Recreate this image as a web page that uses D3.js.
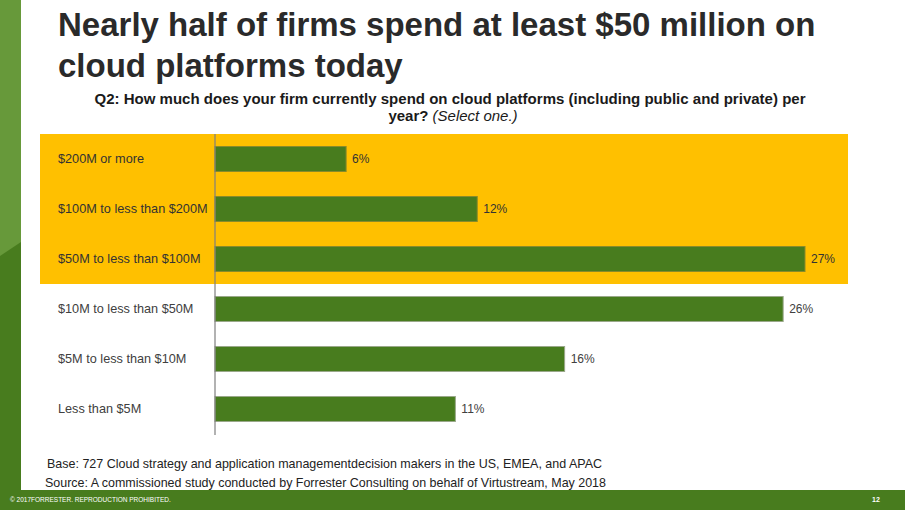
<!DOCTYPE html>
<html>
<head>
<meta charset="utf-8">
<script src="https://cdn.jsdelivr.net/npm/d3@7"></script>
<style>
  body { margin: 0; background: #fff; }
  svg { display: block; font-family: "Liberation Sans", Arial, sans-serif; }
</style>
</head>
<body>
<svg id="chart" width="905" height="510"></svg>
<script>
// chart data
const categories = ["$200M or more", "$100M to less than $200M", "$50M to less than $100M",
    "$10M to less than $50M", "$5M to less than $10M", "Less than $5M"]
const shares = [6, 12, 27, 26, 16, 11]
const highlighted = ["$200M or more", "$100M to less than $200M", "$50M to less than $100M"]

const svg = d3.select("#chart")
const green = "#487c1e"

// left decorative strip
svg.append("rect").attr("x", 0).attr("y", 0).attr("width", 21).attr("height", 510).attr("fill", green)
svg.append("path")
    .attr("d", "M0 0 L21 0 L21 242 L0 256 Z")
    .attr("fill", "#67993a")

// title
const title = svg.append("text")
    .attr("x", 58)
    .attr("font-size", "33px")
    .attr("font-weight", "bold")
    .attr("fill", "#2a2a2a")
title.append("tspan").attr("x", 58).attr("y", 36).text("Nearly half of firms spend at least $50 million on")
title.append("tspan").attr("x", 58).attr("y", 77).text("cloud platforms today")

// question
const q = svg.append("text")
    .attr("text-anchor", "middle")
    .attr("font-size", "15px")
    .attr("font-weight", "bold")
    .attr("fill", "#1a1a1a")
q.append("tspan").attr("x", 450).attr("y", 104)
    .attr("textLength", 711)
    .attr("lengthAdjust", "spacingAndGlyphs")
    .text("Q2: How much does your firm currently spend on cloud platforms (including public and private) per")
const q2 = q.append("tspan").attr("x", 453).attr("y", 121)
q2.append("tspan").text("year? ")
q2.append("tspan").attr("font-weight", "normal").attr("font-style", "italic").text("(Select one.)")

// scales
const axisX = 215
const x = d3.scaleLinear().domain([0, 27]).range([axisX, 805])
const y = d3.scaleBand().domain(categories).range([134, 434]).paddingInner(0.5).paddingOuter(0.25)

// highlight box
svg.append("rect")
    .attr("x", 40)
    .attr("y", y(highlighted[0]) - y.step() * 0.25)
    .attr("width", 808)
    .attr("height", y.step() * highlighted.length)
    .attr("fill", "#ffc000")

// bars
svg.append("g").selectAll("rect")
    .data(categories)
    .enter()
    .append("rect")
    .attr("x", axisX)
    .attr("y", d => y(d))
    .attr("width", (d, i) => x(shares[i]) - axisX)
    .attr("height", y.bandwidth())
    .attr("fill", green)
    .attr("stroke", (d) => highlighted.includes(d) ? "#8a8a2a" : "#9aa88a")
    .attr("stroke-width", 1)

// axis line
svg.append("line")
    .attr("x1", axisX).attr("x2", axisX)
    .attr("y1", 134).attr("y2", 435)
    .attr("stroke", "#7f7f7f")
    .attr("stroke-width", 1.2)

// category labels
svg.append("g").selectAll("text")
    .data(categories)
    .enter()
    .append("text")
    .attr("x", 58)
    .attr("y", d => y(d) + y.bandwidth() / 2)
    .attr("dy", "0.35em")
    .attr("font-size", "12.7px")
    .attr("fill", d => highlighted.includes(d) ? "#333" : "#404040")
    .text(d => d)

// value labels
svg.append("g").selectAll("text")
    .data(categories)
    .enter()
    .append("text")
    .attr("x", (d, i) => x(shares[i]) + 6)
    .attr("y", d => y(d) + y.bandwidth() / 2)
    .attr("dy", "0.35em")
    .attr("font-size", "12px")
    .attr("fill", d => highlighted.includes(d) ? "#333" : "#404040")
    .text((d, i) => `${shares[i]}%`)

// notes
svg.append("text")
    .attr("x", 47).attr("y", 468)
    .attr("font-size", "13px")
    .attr("fill", "#222")
    .attr("textLength", 555)
    .attr("lengthAdjust", "spacingAndGlyphs")
    .text("Base: 727 Cloud strategy and application managementdecision makers in the US, EMEA, and APAC")
svg.append("text")
    .attr("x", 45).attr("y", 487)
    .attr("font-size", "13px")
    .attr("fill", "#222")
    .attr("textLength", 561)
    .attr("lengthAdjust", "spacingAndGlyphs")
    .text("Source: A commissioned study conducted by Forrester Consulting on behalf of Virtustream, May 2018")

// footer band
svg.append("rect").attr("x", 0).attr("y", 490).attr("width", 905).attr("height", 20).attr("fill", green)
svg.append("text")
    .attr("x", 10).attr("y", 502)
    .attr("font-size", "6.5px")
    .attr("fill", "#fff")
    .text("© 2017FORRESTER. REPRODUCTION PROHIBITED.")
svg.append("text")
    .attr("x", 872).attr("y", 502)
    .attr("font-size", "7px")
    .attr("font-weight", "bold")
    .attr("fill", "#fff")
    .text("12")
</script>
</body>
</html>
